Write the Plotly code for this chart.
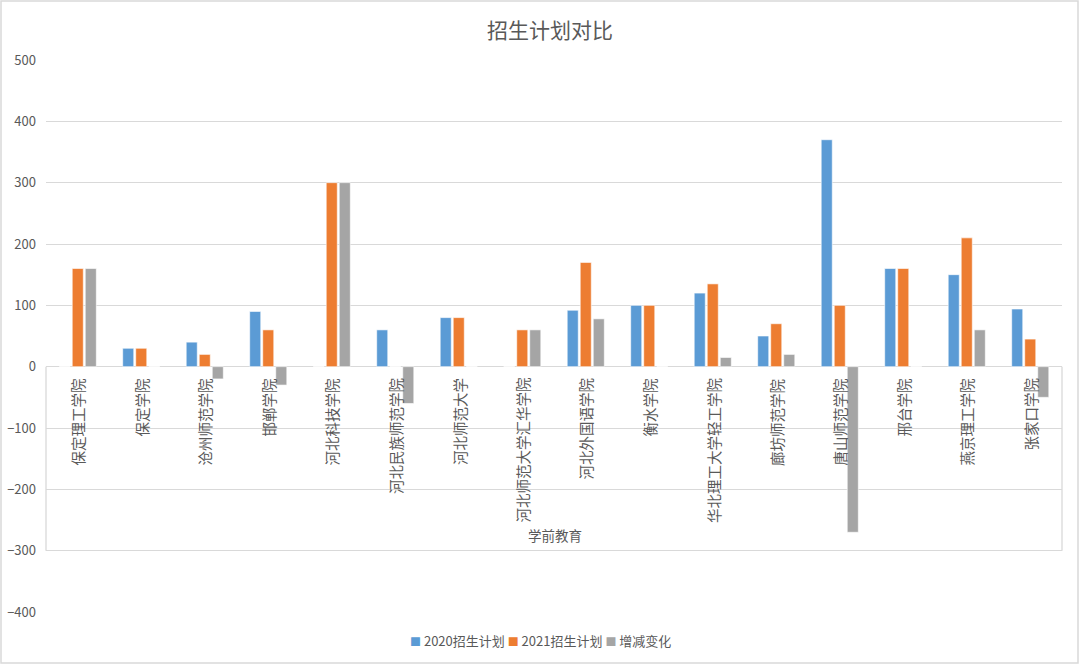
import plotly.graph_objects as go

categories = ["保定理工学院", "保定学院", "沧州师范学院", "邯郸学院", "河北科技学院",
              "河北民族师范学院", "河北师范大学", "河北师范大学汇华学院", "河北外国语学院",
              "衡水学院", "华北理工大学轻工学院", "廊坊师范学院", "唐山师范学院",
              "邢台学院", "燕京理工学院", "张家口学院"]
plan_2020 = [0, 30, 40, 90, 0, 60, 80, 0, 92, 100, 120, 50, 370, 160, 150, 94]
plan_2021 = [160, 30, 20, 60, 300, 0, 80, 60, 170, 100, 135, 70, 100, 160, 210, 45]
change = [160, 0, -20, -30, 300, -60, 0, 60, 78, 0, 15, 20, -270, 0, 60, -50]
series_names = ["2020招生计划", "2021招生计划", "增减变化"]
group_label = "学前教育"
title_text = "招生计划对比"
y_ticks = [-400, -300, -200, -100, 0, 100, 200, 300, 400, 500]

FONT = "Noto Sans CJK SC"
TXT = "#595959"
GRID = "#d9d9d9"
colors = ["#5B9BD5", "#ED7D31", "#A5A5A5"]

fig = go.Figure()
for name, vals, col in zip(series_names, [plan_2020, plan_2021, change], colors):
    fig.add_trace(go.Bar(x=categories, y=vals, name=name, showlegend=False,
                         marker=dict(color=col, line=dict(color="white", width=0.6))))

W, H = 1080, 664
ml, mr, mt, mb = 46, 18, 60, 52
pw, ph = W - ml - mr, H - mt - mb

fig.update_layout(
    width=W, height=H,
    margin=dict(l=ml, r=mr, t=mt, b=mb, autoexpand=False),
    paper_bgcolor="white", plot_bgcolor="white",
    font=dict(family=FONT, size=13, color=TXT),
    title=dict(text=title_text, x=550 / W, xanchor="center", y=1 - 31 / H, yanchor="middle",
               font=dict(size=21, color=TXT, family=FONT)),
    barmode="group", bargap=0.385, bargroupgap=0.15,
    showlegend=False,
    xaxis=dict(showticklabels=False, showgrid=False, showline=False, zeroline=False,
               ticks="", fixedrange=True, automargin=False),
    yaxis=dict(range=[-400, 500], tickvals=y_ticks, showgrid=True, gridcolor=GRID,
               gridwidth=1, zeroline=True, zerolinecolor=GRID, zerolinewidth=1.3,
               showline=False, ticks="", tickfont=dict(size=13, color=TXT),
               ticklabelstandoff=9, automargin=False),
)

# category labels inside the plot, rotated
for c in categories:
    fig.add_annotation(x=c, y=0, xref="x", yref="y", text=c, textangle=-90,
                       showarrow=False, xanchor="center", yanchor="top", yshift=-9,
                       font=dict(size=14.5, color=TXT, family=FONT))

# group label
fig.add_annotation(x=(555 - ml) / pw, xref="paper", y=-275, yref="y", text=group_label,
                   showarrow=False, xanchor="center", yanchor="middle",
                   font=dict(size=13.5, color=TXT, family=FONT))

# legend drawn as text with coloured squares
legend_parts = []
for name, col in zip(series_names, colors):
    legend_parts.append('<span style="color:%s;font-size:11px">■</span> %s' % (col, name))
legend_text = " ".join(legend_parts)
fig.add_annotation(x=(540 - ml) / pw, xref="paper", y=-(640 - mt - ph) / ph, yref="paper",
                   text=legend_text, showarrow=False, xanchor="center", yanchor="middle",
                   font=dict(size=13, color=TXT, family=FONT))

# category box lines
for xp in [0, 1]:
    fig.add_shape(type="line", xref="paper", yref="y", x0=xp, x1=xp, y0=0, y1=-300,
                  line=dict(color=GRID, width=1.3))

# outer chart border
fig.add_shape(type="rect", xref="paper", yref="paper",
              x0=-(ml - 1) / pw, x1=1 + (mr - 2) / pw,
              y0=-(mb - 1) / ph, y1=1 + (mt - 1) / ph,
              line=dict(color=GRID, width=1.5), fillcolor="rgba(0,0,0,0)", layer="below")

fig.write_html("out.html", config={"displayModeBar": False},
               post_script="document.body.style.margin='0';document.body.style.overflow='hidden';")
